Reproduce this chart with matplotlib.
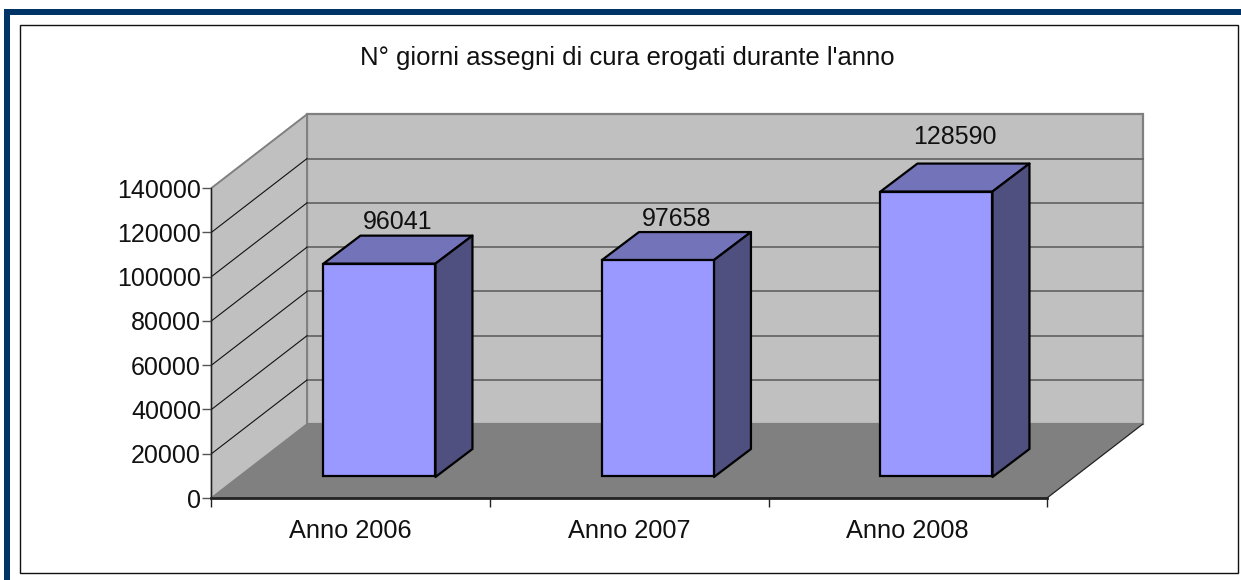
import matplotlib
matplotlib.use("Agg")
import matplotlib.pyplot as plt
from matplotlib.patches import Polygon, Rectangle

categories = ["Anno 2006", "Anno 2007", "Anno 2008"]
values = [96041, 97658, 128590]
y_ticks = [0, 20000, 40000, 60000, 80000, 100000, 120000, 140000]
title = "N° giorni assegni di cura erogati durante l'anno"

W, H = 1241, 580
plt.rcParams['font.family'] = ['Liberation Sans', 'DejaVu Sans']
fig = plt.figure(figsize=(W / 100, H / 100), dpi=100, facecolor='white')

def px(x, y):
    return x / W, 1 - y / H

# page decoration and chart frame
for r in [(4, 9, W - 4, 6), (4, 9, 6, H - 9)]:
    fig.add_artist(Rectangle(px(r[0], r[1] + r[3]), r[2] / W, r[3] / H,
                             transform=fig.transFigure, fc='#003366', ec='none', zorder=-2))
fig.add_artist(Rectangle(px(19.5, 572.7), (1237.7 - 19.5) / W, (572.7 - 24.5) / H,
                         transform=fig.transFigure, fc='white', ec='#111111', lw=1.0, zorder=-1))

L, R, B, T = 211.5, 1047, 498, 188
ax = fig.add_axes([L / W, 1 - B / H, (R - L) / W, (B - T) / H])
ax.set_xlim(0, len(categories))
ax.set_ylim(0, 140000)
ax.patch.set_visible(False)
for s in ax.spines.values():
    s.set_visible(False)

ux = len(categories) / (R - L)      # data units per pixel
uy = 140000 / (B - T)
DX, DY = 95.5 * ux, 73.7 * uy       # depth of the box
ymax = y_ticks[-1]
nx = len(categories)

# walls and floor
ax.add_patch(Polygon([(DX, DY), (nx + DX, DY), (nx + DX, ymax + DY), (DX, ymax + DY)],
                     fc='#c0c0c0', ec='#808080', lw=1.6, clip_on=False, zorder=1))
ax.add_patch(Polygon([(0, 0), (DX, DY), (DX, ymax + DY), (0, ymax)],
                     fc='#c0c0c0', ec='#808080', lw=1.4, clip_on=False, zorder=1))
ax.add_patch(Polygon([(0, 0), (nx, 0), (nx + DX, DY), (DX, DY)],
                     fc='#808080', ec='none', clip_on=False, zorder=2))
ax.plot([nx, nx + DX], [0, DY], color='#222222', lw=0.9, clip_on=False, zorder=2)

# gridlines
for v in y_ticks[1:-1]:
    ax.plot([DX, nx + DX], [v + DY, v + DY], color='#606060', lw=1.2, clip_on=False, zorder=2)
    ax.plot([0, DX], [v, v + DY], color='#111111', lw=0.8, clip_on=False, zorder=2)

# axes
ax.plot([0, 0], [0, ymax], color='#222222', lw=0.9, clip_on=False, zorder=3)
ax.plot([0, nx], [0, 0], color='#222222', lw=2.0, clip_on=False, zorder=3)
ax.set_xticks(range(nx + 1))
ax.set_xticklabels([])
ax.set_yticks(y_ticks)
ax.set_yticklabels([str(v) for v in y_ticks], fontsize=18, color='#111111')
ax.tick_params(axis='y', length=6.5, width=1.0, color='#555555', pad=1)
ax.tick_params(axis='x', length=6.5, width=1.0, color='#222222')
for i, c in enumerate(categories):
    ax.text(i + 0.5, -32.5 * uy, c, ha='center', va='center', fontsize=18.3, color='#111111')

# bars
lift = 21 * uy
shift = 28.7 * ux
bw = 112 * ux
bdx, bdy = 37 * ux, 28 * uy
label_gap = [13.5, 13.5, 27]   # pixels between the box top and its label
centers = [i + 0.5 + shift for i in range(nx)]
ax.bar(centers, values, bottom=lift + 0.7 * uy, width=bw, color='#9999ff', edgecolor='black',
       linewidth=1.6, clip_on=False, zorder=5)
for c, v, g in zip(centers, values, label_gap):
    x1, x2 = c - bw / 2, c + bw / 2
    top = v + lift + 0.7 * uy
    ax.add_patch(Polygon([(x1, top), (x2, top), (x2 + bdx, top + bdy), (x1 + bdx, top + bdy)],
                         fc='#7373b9', ec='black', lw=1.6, clip_on=False, zorder=4,
                         joinstyle='round'))
    ax.add_patch(Polygon([(x2, lift), (x2 + bdx, lift + bdy), (x2 + bdx, top + bdy), (x2, top)],
                         fc='#4f4f80', ec='black', lw=1.6, clip_on=False, zorder=4,
                         joinstyle='round'))
    ax.text(c + bdx / 2, top + bdy + g * uy, str(v), ha='center', va='center',
            fontsize=18, color='#111111', zorder=6)

fig.text(627.5 / W, 1 - 58 / H, title, ha='center', va='center', fontsize=18.5, color='#111111')
fig.savefig("out.png", dpi=100)
